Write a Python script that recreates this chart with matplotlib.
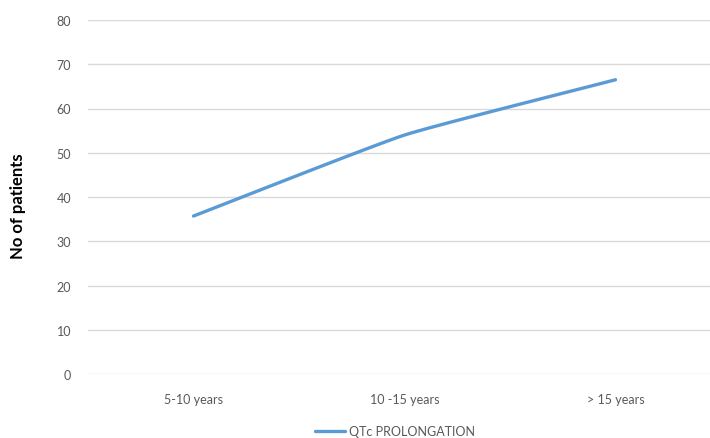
import numpy as np
import matplotlib
matplotlib.use("Agg")
import matplotlib.pyplot as plt

plt.rcParams['font.family'] = ['Lato', 'DejaVu Sans']

categories = ['5-10 years', '10 -15 years', '> 15 years']
qtc_values = [35.7, 54.0, 66.5]
series_name = 'QTc PROLONGATION'
y_ticks = [0, 10, 20, 30, 40, 50, 60, 70, 80]


def smooth_curve(xs, ys, tension=0.07, n=40):
    # light Bezier smoothing between points, like the spreadsheet "smoothed line"
    xs = np.asarray(xs, float)
    ys = np.asarray(ys, float)
    px = np.concatenate([[2 * xs[0] - xs[1]], xs, [2 * xs[-1] - xs[-2]]])
    py = np.concatenate([[2 * ys[0] - ys[1]], ys, [2 * ys[-1] - ys[-2]]])
    out_x, out_y = [], []
    for i in range(1, len(px) - 2):
        t = np.linspace(0, 1, n)
        for p, out in ((px, out_x), (py, out_y)):
            p0, p1, p2, p3 = p[i - 1], p[i], p[i + 1], p[i + 2]
            c1 = p1 + (p2 - p0) * tension
            c2 = p2 - (p3 - p1) * tension
            out.extend((1 - t) ** 3 * p1 + 3 * (1 - t) ** 2 * t * c1
                       + 3 * (1 - t) * t ** 2 * c2 + t ** 3 * p2)
    return out_x, out_y


fig = plt.figure(figsize=(7.1, 4.39), dpi=100)
ax = fig.add_axes([88 / 710, 1 - 375 / 439, 633 / 710, 354 / 439])

x = np.arange(len(categories))
sx, sy = smooth_curve(x, qtc_values)
ax.plot(sx, sy, color='#5B9BD5', lw=2.4, solid_capstyle='round', label=series_name)

ax.set_xlim(-0.5, 2.5)
ax.set_ylim(0, 80)
ax.set_yticks(y_ticks)
ax.set_xticks(x)
ax.set_xticklabels(categories)
ax.grid(axis='y', color='#D9D9D9', lw=1)
ax.set_axisbelow(True)
for s in ax.spines.values():
    s.set_visible(False)
ax.tick_params(length=0, colors='#595959', labelsize=9)
ax.tick_params(axis='x', pad=14)
ax.tick_params(axis='y', pad=12)

fig.text(18 / 710, 1 - 206 / 439, 'No of patients', rotation=90, fontsize=12,
         fontweight='bold', color='black', ha='center', va='center')

fig.legend(loc='center', bbox_to_anchor=(395 / 710, 1 - 432 / 439), frameon=False,
           fontsize=9, labelcolor='#595959', handlelength=2.4, handletextpad=0.3)

fig.savefig('out.png', dpi=100)
